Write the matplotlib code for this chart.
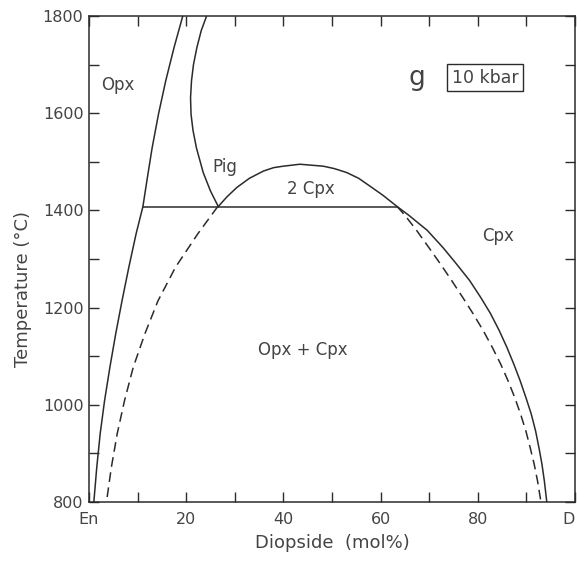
import matplotlib
matplotlib.use("Agg")
import matplotlib.pyplot as plt
from matplotlib.ticker import MultipleLocator

# Opx limb (left solid line)
opx_x = [1.0, 1.6, 2.3, 3.2, 4.3, 5.5, 6.8, 8.2, 9.7, 11.1,
         11.9, 13.0, 14.3, 15.8, 17.5, 19.3]
opx_t = [800, 871, 940, 1008, 1077, 1146, 1214, 1283, 1352, 1408,
         1460, 1529, 1598, 1667, 1735, 1800]

# Pigeonite / Cpx boundary above the three-phase line
pig_x = [26.6, 25.0, 23.5, 22.1, 21.4, 21.0, 20.9, 21.1, 21.5, 22.2, 23.1, 24.2]
pig_t = [1408, 1440, 1478, 1529, 1565, 1598, 1632, 1667, 1700, 1735, 1770, 1800]

# 2 Cpx dome and Cpx limb (solid)
cpx_x = [26.6, 28.4, 30.4, 33.0, 35.9, 38.0, 40.0, 43.4, 48.2, 50.5, 53.0,
         55.5, 57.8, 60.5, 63.4, 65.8, 69.6, 72.8, 75.6, 78.3, 80.6, 82.6,
         84.4, 86.0, 87.4, 88.7, 89.9, 91.0, 91.9, 92.6, 93.2, 93.7, 94.2]
cpx_t = [1408, 1428, 1447, 1466, 1481, 1488, 1491, 1495, 1491, 1486, 1478,
         1466, 1450, 1431, 1408, 1390, 1359, 1324, 1290, 1256, 1221, 1188,
         1153, 1118, 1084, 1050, 1015, 981, 946, 911, 878, 843, 800]

# metastable extensions (dashed)
dash_l_x = [26.5, 22.4, 17.8, 14.2, 11.5, 9.1, 7.3, 5.8, 4.6, 3.6]
dash_l_t = [1408, 1352, 1283, 1214, 1146, 1077, 1008, 940, 871, 800]
dash_r_x = [63.4, 65.0, 67.4, 69.9, 72.3, 74.6, 76.9, 79.0, 81.1, 83.0, 84.7,
            86.2, 87.6, 88.8, 89.9, 90.8, 91.6, 92.3, 93.0]
dash_r_t = [1408, 1390, 1359, 1324, 1290, 1256, 1221, 1188, 1153, 1118, 1084,
            1050, 1015, 981, 946, 911, 878, 843, 800]

# three-phase line
tie_x = [11.1, 63.4]
tie_t = [1408, 1408]

x_ticks = [0, 20, 40, 60, 80, 100]
x_labels = ["En", "20", "40", "60", "80", "D"]
y_ticks = [800, 1000, 1200, 1400, 1600, 1800]

fields = [("Opx", 6.0, 1658), ("Pig", 28.0, 1489), ("2 Cpx", 45.7, 1445),
          ("Cpx", 84.2, 1348), ("Opx + Cpx", 43.9, 1113)]

INK = "#2b2b2b"
TXT = "#444444"
plt.rcParams["font.family"] = "DejaVu Sans"
plt.rcParams["lines.scale_dashes"] = False

fig = plt.figure(figsize=(5.77, 5.62), dpi=100)
ax = fig.add_axes([0.1542, 0.1068, 0.8423, 0.8647])

ax.plot(opx_x, opx_t, color=INK, lw=1.1)
ax.plot(pig_x, pig_t, color=INK, lw=1.1)
ax.plot(cpx_x, cpx_t, color=INK, lw=1.1)
ax.plot(tie_x, tie_t, color=INK, lw=1.1)
ax.plot(dash_l_x, dash_l_t, color=INK, lw=1.1, dashes=(7, 4))
ax.plot(dash_r_x, dash_r_t, color=INK, lw=1.1, dashes=(7, 4))

for name, x, t in fields:
    ax.text(x, t, name, ha="center", va="center", fontsize=12, color=TXT)

ax.text(67.5, 1672, "g", ha="center", va="center", fontsize=19, color=TXT)
ax.text(81.5, 1673, "10 kbar", ha="center", va="center", fontsize=12.5, color=TXT,
        bbox=dict(boxstyle="square,pad=0.25", fc="white", ec=INK, lw=1.0))

ax.set_xlim(0, 100)
ax.set_ylim(800, 1800)
ax.set_xticks(x_ticks)
ax.set_xticklabels(x_labels)
ax.set_yticks(y_ticks)
ax.xaxis.set_minor_locator(MultipleLocator(10))
ax.yaxis.set_minor_locator(MultipleLocator(100))
ax.tick_params(which="both", direction="in", top=True, right=True, length=7,
               width=1.0, color=INK, labelsize=11.5, labelcolor=TXT)
ax.tick_params(axis="y", pad=4)
ax.tick_params(axis="x", pad=7)
xl = ax.get_xticklabels()
xl[-1].set_horizontalalignment("right")

for s in ax.spines.values():
    s.set_color(INK)
    s.set_linewidth(1.1)

ax.set_xlabel("Diopside  (mol%)", fontsize=13, color=TXT, labelpad=5)
ax.set_ylabel("Temperature (°C)", fontsize=13, color=TXT)
ax.yaxis.set_label_coords(-0.118, 0.438)

fig.savefig("out.png", dpi=100)
